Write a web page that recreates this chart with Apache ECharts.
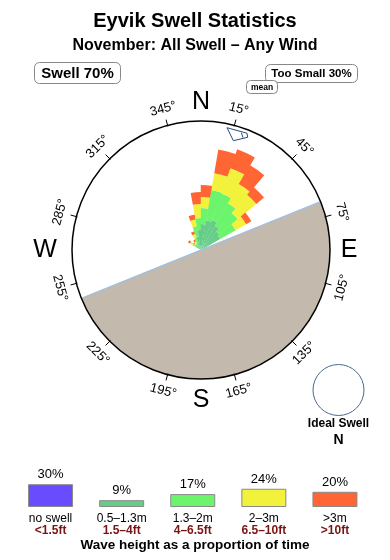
<!DOCTYPE html>
<html>
<head>
<meta charset="utf-8">
<script src="https://cdn.jsdelivr.net/npm/echarts@6/dist/echarts.min.js"></script>
<style>html,body{margin:0;padding:0;background:#fff}#c{width:390px;height:560px}</style>
</head>
<body>
<div id="c"></div>
<script>
// ---- data ----
const sectorStarts = [300, 310, 320, 330, 340, 350, 0, 10, 20, 30, 40, 50];   // bearing of each 10° sector start
const sectorWidth = 10;
const band05_13 = [6, 4, 5, 8, 14, 20, 26, 30, 32, 28, 24, 22];
const band13_2  = [4, 3, 3, 5, 10, 12, 16, 31, 28, 26, 24, 18];
const band2_3   = [3, 2, 2, 4, 7, 14, 11, 17, 27, 22, 24, 12];
const band3p    = [2, 1, 2, 3, 5, 12, 12, 24, 20, 22, 10, 6];
const legendCats = ['no swell', '0.5–1.3m', '1.3–2m', '2–3m', '>3m'];
const legendFeet = ['<1.5ft', '1.5–4ft', '4–6.5ft', '6.5–10ft', '>10ft'];
const legendPct = [30, 9, 17, 24, 20];
const tickBearings = [15, 45, 75, 105, 135, 165, 195, 225, 255, 285, 315, 345];
const compassPts = [['N', 0], ['E', 90], ['S', 180], ['W', 270]];
const swellPct = 70, tooSmallPct = 30;
const meanDir = 17;
const coastFrom = 68; // land from this bearing clockwise for 180°

// ---- layout ----
const CX = 201, CY = 250, R = 129;
const FONT = 'Liberation Sans, Arial, sans-serif';
const colors = ['#6a4cff', '#66cc88', '#6cf56c', '#f2f23c', '#ff6633'];

const bands = [band05_13, band13_2, band2_3, band3p];
// rose items: [sectorStart, innerRadius, outerRadius, bandIndex]
const roseData = [];
sectorStarts.forEach((s, i) => {
  let acc = 0;
  bands.forEach((b, k) => {
    roseData.push([s, acc, acc + b[i], k]);
    acc += b[i];
  });
});

function pt(bear, r) {
  const t = bear * Math.PI / 180;
  return [CX + r * Math.sin(t), CY - r * Math.cos(t)];
}

const graphics = [];
// land
graphics.push({
  type: 'sector', z: 1,
  shape: { cx: CX, cy: CY, r0: 0, r: R, startAngle: (coastFrom - 90) * Math.PI / 180, endAngle: (coastFrom + 90) * Math.PI / 180, clockwise: true },
  style: { fill: '#c4b9ad' }
});
{
  const a = pt(coastFrom, R), b = pt(coastFrom + 180, R);
  graphics.push({ type: 'line', z: 3, shape: { x1: a[0], y1: a[1], x2: b[0], y2: b[1] }, style: { stroke: '#9fc0e0', lineWidth: 1.2 } });
}
// compass circle
graphics.push({ type: 'circle', z: 5, shape: { cx: CX, cy: CY, r: R }, style: { fill: null, stroke: '#000', lineWidth: 1.5 } });
// ticks & labels
tickBearings.forEach(b => {
  const p1 = pt(b, R - 1), p2 = pt(b, R + 6);
  graphics.push({ type: 'line', z: 5, shape: { x1: p1[0], y1: p1[1], x2: p2[0], y2: p2[1] }, style: { stroke: '#000', lineWidth: 1 } });
  let c;
  if (b < 90 || b > 270) c = b > 180 ? b - 360 : b; else c = b - 180;
  const p = pt(b, 146);
  graphics.push({
    type: 'text', z: 5, x: p[0], y: p[1], rotation: -c * Math.PI / 180,
    style: { text: b + '°', font: '13px ' + FONT, fill: '#000', align: 'center', verticalAlign: 'middle' }
  });
});
compassPts.forEach(([t, b]) => {
  const rr = b === 0 ? 148 : b === 180 ? 150 : b === 90 ? 148 : 156;
  const p = pt(b, rr);
  graphics.push({ type: 'text', z: 5, x: p[0], y: p[1], style: { text: t, font: '25px ' + FONT, fill: '#000', align: 'center', verticalAlign: 'middle' } });
});
// mean marker
{
  const pts = [pt(meanDir - 5, 125), pt(meanDir - 0.5, 114), pt(meanDir + 5.5, 122), pt(meanDir + 4.5, 125.5)];
  graphics.push({ type: 'polygon', z: 6, shape: { points: pts }, style: { fill: '#fff', stroke: '#2a4a7a', lineWidth: 1 } });
  const n1 = pt(meanDir + 2, 124), n2 = pt(meanDir + 3.5, 120);
  graphics.push({ type: 'line', z: 6, shape: { x1: n1[0], y1: n1[1], x2: n2[0], y2: n2[1] }, style: { stroke: '#2a4a7a', lineWidth: 1 } });
}
// boxes
function box(x, y, w, h, text, font, r) {
  graphics.push({ type: 'rect', z: 7, shape: { x: x, y: y, width: w, height: h, r: r }, style: { fill: '#fff', stroke: '#888', lineWidth: 1 } });
  graphics.push({ type: 'text', z: 8, x: x + w / 2, y: y + h / 2 + 0.5, style: { text: text, font: font, fill: '#000', align: 'center', verticalAlign: 'middle' } });
}
box(34.5, 62.5, 86, 21, 'Swell ' + swellPct + '%', 'bold 15px ' + FONT, 5);
box(265.5, 64.5, 92, 18, 'Too Small ' + tooSmallPct + '%', 'bold 11.5px ' + FONT, 5);
box(246.5, 80.5, 31, 13, 'mean', 'bold 8.5px ' + FONT, 4);
// ideal swell
graphics.push({ type: 'circle', z: 5, shape: { cx: 338.5, cy: 390, r: 25.5 }, style: { fill: '#fff', stroke: '#4a6a90', lineWidth: 1 } });
graphics.push({ type: 'text', z: 5, x: 338.5, y: 424, style: { text: 'Ideal Swell', font: 'bold 12px ' + FONT, fill: '#000', align: 'center', verticalAlign: 'middle' } });
graphics.push({ type: 'text', z: 5, x: 338.5, y: 440, style: { text: 'N', font: 'bold 14px ' + FONT, fill: '#000', align: 'center', verticalAlign: 'middle' } });
// caption
graphics.push({ type: 'text', z: 5, x: 195, y: 545, style: { text: 'Wave height as a proportion of time', font: 'bold 13.5px ' + FONT, fill: '#000', align: 'center', verticalAlign: 'middle' } });

function renderPetal(params, api) {
  const b0 = api.value(0), r0v = api.value(1), r1v = api.value(2), k = api.value(3);
  const cs = params.coordSys;
  const cx = cs.cx, cy = cs.cy;
  const pA = api.coord([r1v, b0]);
  const pB = api.coord([r1v, b0 + sectorWidth]);
  const pI = api.coord([r0v, b0]);
  const rOut = Math.hypot(pA[0] - cx, pA[1] - cy);
  const rIn = Math.hypot(pI[0] - cx, pI[1] - cy);
  let a0 = Math.atan2(pA[1] - cy, pA[0] - cx);
  let a1 = Math.atan2(pB[1] - cy, pB[0] - cx);
  if (a1 < a0) a1 += Math.PI * 2;
  return {
    type: 'sector',
    shape: { cx: cx, cy: cy, r0: rIn, r: rOut, startAngle: a0 - 0.004, endAngle: a1 + 0.004, clockwise: true },
    style: { fill: colors[k + 1] }
  };
}

const chart = echarts.init(document.getElementById('c'), null, { renderer: 'canvas' });
chart.setOption({
  animation: false,
  backgroundColor: '#fff',
  textStyle: { fontFamily: FONT },
  title: [
    { text: 'Eyvik Swell Statistics', left: 'center', top: 6, textStyle: { fontSize: 20, fontWeight: 'bold', color: '#000', fontFamily: FONT } },
    { text: 'November: All Swell – Any Wind', left: 'center', top: 33, textStyle: { fontSize: 16, fontWeight: 'bold', color: '#000', fontFamily: FONT } }
  ],
  polar: { center: [CX, CY], radius: R },
  angleAxis: { type: 'value', min: 0, max: 360, startAngle: 90, clockwise: true, axisLine: { show: false }, axisTick: { show: false }, axisLabel: { show: false }, splitLine: { show: false } },
  radiusAxis: { type: 'value', min: 0, max: 129, axisLine: { show: false }, axisTick: { show: false }, axisLabel: { show: false }, splitLine: { show: false } },
  grid: { left: 15, width: 355.5, bottom: 53, height: 38 },
  xAxis: {
    type: 'category', data: legendCats, axisLine: { show: false }, axisTick: { show: false },
    axisLabel: {
      interval: 0, margin: 6,
      formatter: (v, i) => '{a|' + v + '}\n{b|' + legendFeet[i] + '}',
      rich: { a: { fontSize: 12, color: '#000', lineHeight: 12, fontFamily: FONT }, b: { fontSize: 12, color: '#7a1414', fontWeight: 'bold', lineHeight: 12, fontFamily: FONT } }
    }
  },
  yAxis: { type: 'value', min: 0, max: 50, show: false, splitLine: { show: false } },
  series: [{
    type: 'custom', coordinateSystem: 'polar', polarIndex: 0, z: 2,
    data: roseData, renderItem: renderPetal, silent: true,
    encode: { radius: [1, 2], angle: 0 }
  }, {
    type: 'bar', xAxisIndex: 0, yAxisIndex: 0, barWidth: 45,
    data: legendPct.map((v, i) => ({ value: v, itemStyle: { color: colors[i] } })),
    itemStyle: { borderColor: '#8a8a8a', borderWidth: 1 },
    label: { show: true, position: 'top', distance: 3, formatter: '{c}%', fontSize: 13, color: '#000', fontFamily: FONT },
    silent: true
  }],
  graphic: { elements: graphics }
});
</script>
</body>
</html>
